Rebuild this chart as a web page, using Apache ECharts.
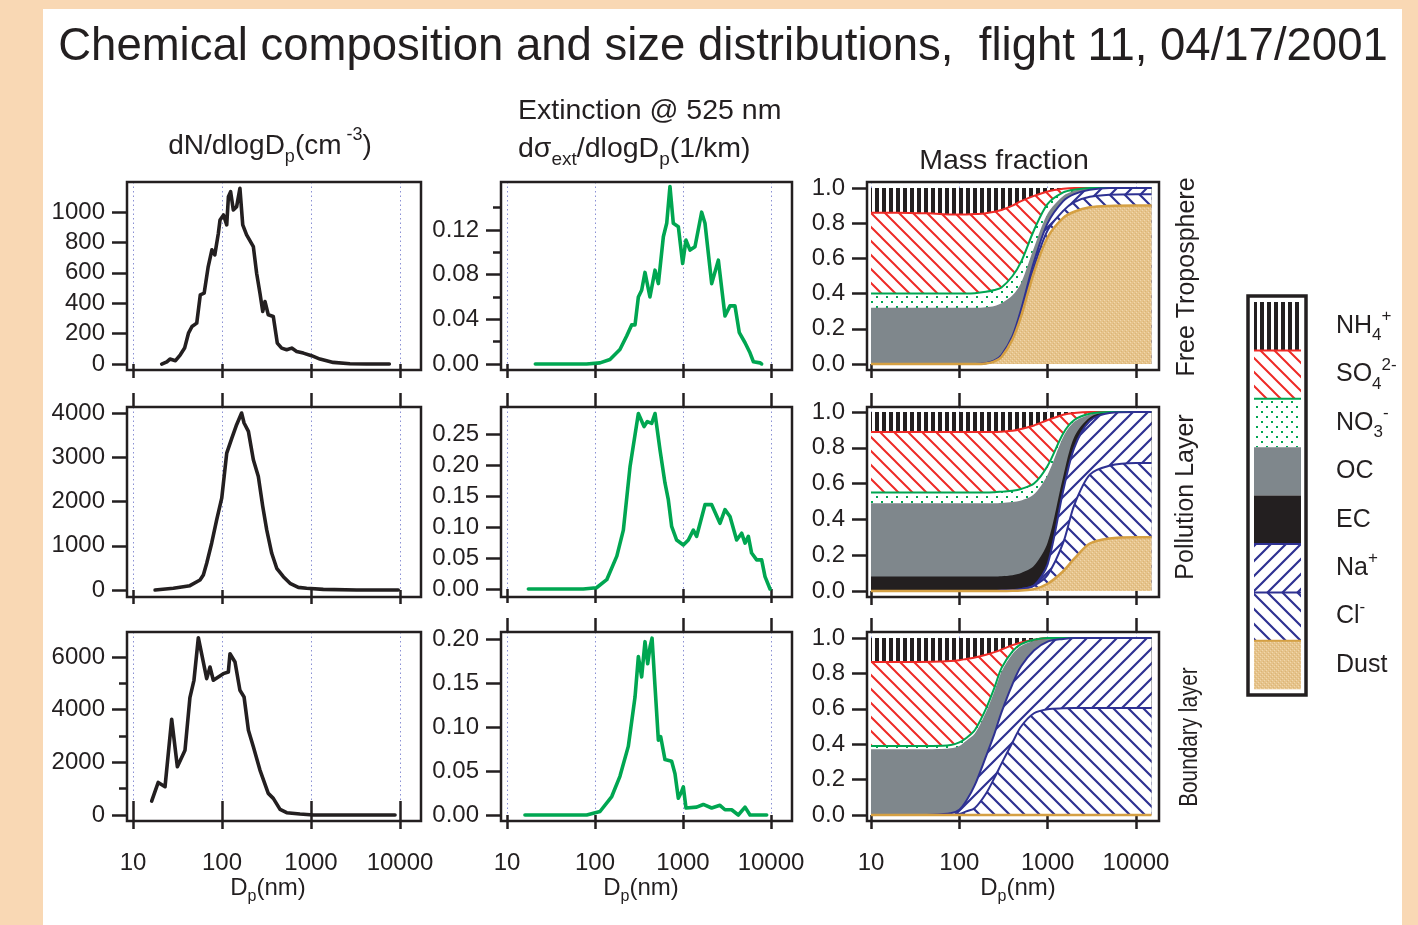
<!DOCTYPE html>
<html>
<head>
<meta charset="utf-8">
<script src="https://cdn.jsdelivr.net/npm/echarts@6/dist/echarts.min.js"></script>
<style>
  html, body { margin: 0; padding: 0; background: #F9D8B4; }
  #panel { position: absolute; left: 43px; top: 9px; width: 1359px; height: 920px; background: #fff; }
  #chart { position: absolute; left: 0; top: 0; width: 1418px; height: 925px; }
</style>
</head>
<body>
<div id="panel"></div>
<div id="chart"></div>
<script>
const DECADES = [10, 100, 1000, 10000]

// number size distributions, dN/dlogDp
const ftNumD = [21, 24, 26, 30, 34, 38, 42, 46, 52, 57, 63, 70, 77, 83, 91, 95, 104, 113, 118, 125, 134, 146, 159, 171, 189, 225, 245, 267, 287, 304, 331, 377, 418, 468, 533, 607, 690, 820, 1015, 1260, 1780, 2740, 4220, 7590]
const ftNumV = [0, 15, 33, 22, 61, 105, 203, 247, 269, 455, 466, 641, 751, 718, 860, 947, 980, 915, 1100, 1133, 1013, 1035, 1155, 915, 849, 772, 597, 466, 346, 411, 324, 313, 138, 105, 94, 105, 83, 72, 55, 33, 11, 2, 0, 0]
const plNumD = [17.7, 28.4, 43.6, 56.6, 61.7, 67.3, 76.5, 87.1, 99.3, 113, 129, 146, 166, 177, 198, 225, 256, 287, 318, 362, 412, 489, 581, 720, 893, 1374, 3260, 9570]
const plNumV = [0, 38, 98, 226, 340, 604, 1057, 1585, 2075, 3094, 3434, 3736, 4000, 3774, 3585, 2943, 2566, 1887, 1358, 830, 491, 302, 151, 60, 38, 15, 0, 0]
const blNumD = [16.2, 19.2, 22.9, 27.2, 31.5, 38.4, 43.6, 48.4, 54.2, 67.3, 73.3, 79.9, 103.5, 117.8, 123, 140, 159, 177, 198, 225, 267, 331, 377, 449, 533, 752, 1062, 8800]
const blNumV = [530, 1238, 1074, 3638, 1832, 2463, 4459, 5116, 6733, 5179, 5621, 5116, 5368, 5432, 6126, 5811, 4737, 4484, 3221, 2589, 1705, 821, 632, 215, 88, 38, 0, 0]

// extinction distributions, dsigma/dlogDp (1/km)
const ftExtD = [21, 80, 114, 148, 192, 229, 261, 285, 311, 339, 370, 421, 481, 525, 598, 653, 711, 776, 885, 991, 1081, 1202, 1368, 1630, 1778, 2118, 2522, 3001, 3420, 3898, 4365, 5070, 5770, 6310, 7500, 7830]
const ftExtV = [0, 0, 0.001, 0.004, 0.013, 0.025, 0.035, 0.035, 0.060, 0.066, 0.082, 0.060, 0.084, 0.072, 0.114, 0.126, 0.159, 0.126, 0.123, 0.090, 0.111, 0.102, 0.105, 0.136, 0.126, 0.072, 0.093, 0.043, 0.052, 0.052, 0.028, 0.019, 0.010, 0.002, 0.001, 0]
const plExtD = [17.5, 73.6, 104, 136, 177, 210, 250, 311, 361, 393, 441, 481, 548, 624, 681, 743, 847, 1009, 1150, 1310, 1429, 1778, 2118, 2630, 3000, 3420, 4070, 4640, 5070, 5530, 6020, 6870, 7830, 8550, 9750]
const plExtV = [0, 0, 0.002, 0.015, 0.053, 0.095, 0.197, 0.283, 0.262, 0.270, 0.267, 0.283, 0.224, 0.171, 0.144, 0.101, 0.079, 0.071, 0.079, 0.095, 0.085, 0.136, 0.136, 0.106, 0.128, 0.117, 0.079, 0.090, 0.074, 0.085, 0.058, 0.047, 0.047, 0.020, 0]
const blExtD = [16, 80.5, 114, 155, 192, 239, 285, 311, 339, 370, 397, 422, 445, 481, 525, 558, 624, 743, 811, 885, 949, 1009, 1081, 1429, 1700, 2118, 2630, 3000, 3570, 4250, 5070, 5770, 8930]
const blExtV = [0, 0, 0.004, 0.021, 0.044, 0.078, 0.134, 0.180, 0.157, 0.197, 0.172, 0.191, 0.201, 0.146, 0.085, 0.089, 0.063, 0.061, 0.047, 0.019, 0.025, 0.032, 0.008, 0.009, 0.012, 0.008, 0.011, 0.006, 0.006, 0, 0.009, 0, 0]

// mass fraction, cumulative top of each layer (stacked bottom to top: Dust, Cl, Na, EC, OC, NO3, SO4, NH4)
const massD = [10, 20, 50, 80, 100, 120, 150, 200, 250, 300, 400, 500, 700, 1000, 1500, 2000, 3000, 5000, 10000, 15000]

const ftNH4 = [1, 1, 1, 1, 1, 1, 1, 1, 1, 1, 1, 1, 1, 1, 1, 1, 1, 1, 1, 1]
const ftSO4 = [0.86, 0.86, 0.855, 0.85, 0.85, 0.85, 0.852, 0.857, 0.865, 0.875, 0.90, 0.925, 0.955, 0.98, 0.995, 1, 1, 1, 1, 1]
const ftNO3 = [0.40, 0.40, 0.40, 0.40, 0.40, 0.40, 0.402, 0.41, 0.42, 0.435, 0.50, 0.58, 0.76, 0.91, 0.975, 0.99, 1, 1, 1, 1]
const ftOC = [0.32, 0.32, 0.32, 0.32, 0.32, 0.32, 0.32, 0.323, 0.33, 0.345, 0.39, 0.46, 0.66, 0.855, 0.955, 0.985, 1, 1, 1, 1]
const ftEC = [0, 0, 0, 0, 0, 0, 0, 0.005, 0.02, 0.05, 0.16, 0.31, 0.58, 0.80, 0.925, 0.965, 0.99, 1, 1, 1]
const ftNa = [0, 0, 0, 0, 0, 0, 0, 0.005, 0.02, 0.05, 0.16, 0.31, 0.58, 0.80, 0.925, 0.965, 0.99, 1, 1, 1]
const ftCl = [0, 0, 0, 0, 0, 0, 0, 0.004, 0.017, 0.045, 0.15, 0.29, 0.55, 0.76, 0.87, 0.92, 0.95, 0.962, 0.965, 0.965]
const ftDust = [0, 0, 0, 0, 0, 0, 0, 0.003, 0.015, 0.04, 0.14, 0.27, 0.52, 0.72, 0.83, 0.865, 0.89, 0.898, 0.9, 0.9]

const plNH4 = [1, 1, 1, 1, 1, 1, 1, 1, 1, 1, 1, 1, 1, 1, 1, 1, 1, 1, 1, 1]
const plSO4 = [0.888, 0.888, 0.888, 0.888, 0.888, 0.888, 0.888, 0.888, 0.888, 0.89, 0.895, 0.905, 0.925, 0.955, 0.985, 0.995, 1, 1, 1, 1]
const plNO3 = [0.55, 0.55, 0.55, 0.55, 0.55, 0.55, 0.55, 0.55, 0.552, 0.555, 0.56, 0.57, 0.60, 0.70, 0.88, 0.955, 0.99, 1, 1, 1]
const plOC = [0.49, 0.49, 0.49, 0.49, 0.49, 0.49, 0.49, 0.49, 0.49, 0.492, 0.497, 0.505, 0.54, 0.65, 0.86, 0.945, 0.985, 1, 1, 1]
const plEC = [0.08, 0.08, 0.08, 0.08, 0.08, 0.08, 0.08, 0.08, 0.08, 0.082, 0.088, 0.10, 0.14, 0.27, 0.64, 0.86, 0.97, 1, 1, 1]
const plNa = [0, 0, 0, 0, 0, 0, 0, 0, 0, 0.002, 0.005, 0.01, 0.03, 0.15, 0.56, 0.80, 0.95, 0.995, 1, 1]
const plCl = [0, 0, 0, 0, 0, 0, 0, 0, 0, 0.001, 0.004, 0.01, 0.03, 0.09, 0.27, 0.48, 0.65, 0.70, 0.715, 0.715]
const plDust = [0, 0, 0, 0, 0, 0, 0, 0, 0, 0, 0.001, 0.003, 0.01, 0.04, 0.11, 0.18, 0.265, 0.293, 0.3, 0.3]

const blNH4 = [1, 1, 1, 1, 1, 1, 1, 1, 1, 1, 1, 1, 1, 1, 1, 1, 1, 1, 1, 1]
const blSO4 = [0.865, 0.865, 0.866, 0.87, 0.875, 0.882, 0.89, 0.905, 0.92, 0.935, 0.96, 0.975, 0.99, 1, 1, 1, 1, 1, 1, 1]
const blNO3 = [0.39, 0.39, 0.39, 0.395, 0.41, 0.435, 0.48, 0.60, 0.72, 0.83, 0.925, 0.965, 0.99, 1, 1, 1, 1, 1, 1, 1]
const blOC = [0.372, 0.372, 0.372, 0.377, 0.39, 0.42, 0.46, 0.58, 0.70, 0.81, 0.91, 0.955, 0.985, 0.998, 1, 1, 1, 1, 1, 1]
const blEC = [0, 0, 0.002, 0.01, 0.03, 0.08, 0.17, 0.33, 0.46, 0.58, 0.74, 0.84, 0.93, 0.98, 0.995, 1, 1, 1, 1, 1]
const blNa = [0, 0, 0.002, 0.01, 0.03, 0.08, 0.17, 0.33, 0.46, 0.58, 0.74, 0.84, 0.93, 0.98, 0.995, 1, 1, 1, 1, 1]
const blCl = [0, 0, 0, 0, 0.005, 0.02, 0.04, 0.12, 0.21, 0.29, 0.41, 0.50, 0.575, 0.598, 0.603, 0.604, 0.604, 0.604, 0.604, 0.604]
const blDust = [0, 0, 0, 0, 0, 0, 0, 0, 0, 0, 0, 0, 0, 0, 0, 0, 0, 0, 0, 0]

// axis ticks
const numTicksFT = [0, 200, 400, 600, 800, 1000]
const numTicksPL = [0, 1000, 2000, 3000, 4000]
const numTicksBL = [0, 2000, 4000, 6000]
const numMinorBL = [1000, 3000, 5000]
const extTicksFT = [0, 0.04, 0.08, 0.12]
const extMinorFT = [0.02, 0.06, 0.10, 0.14]
const extTicksPL = [0, 0.05, 0.10, 0.15, 0.20, 0.25]
const extTicksBL = [0, 0.05, 0.10, 0.15, 0.20]
const fracTicks = [0, 0.2, 0.4, 0.6, 0.8, 1.0]

const layerNames = ['NH4', 'SO4', 'NO3', 'OC', 'EC', 'Na', 'Cl', 'Dust']

const FONT = '"Liberation Sans", Arial, Helvetica, sans-serif'
const INK = '#231F20'
const RED = '#EE2A26'
const GREEN = '#00A651'
const BLUE = '#2E3192'
const GRAY = '#7F878C'
const TAN = '#D5A043'

const COL_LEFT = [127, 501, 867]
const COL_WIDTH = [294, 291, 292]
const ROW_TOP = [182, 407, 632]
const ROW_HEIGHT = [188, 190, 189]
const X_RANGE = [[8.56, 17220], [8.55, 17320], [9.01, 18220]]

function tile(w, h, draw) {
  const c = document.createElement('canvas')
  c.width = w
  c.height = h
  const g = c.getContext('2d')
  g.fillStyle = '#fff'
  g.fillRect(0, 0, w, h)
  draw(g)
  return { image: c, repeat: 'repeat' }
}

function hatch(color, up, s, w) {
  return tile(s, s, g => {
    g.strokeStyle = color
    g.lineWidth = w
    g.beginPath()
    for (const o of [-s, 0, s]) {
      if (up) { g.moveTo(o - 2, s + 2); g.lineTo(o + s + 2, -2) }
      else { g.moveTo(o - 2, -2); g.lineTo(o + s + 2, s + 2) }
    }
    g.stroke()
  })
}

const FILLS = {
  NH4: tile(7, 8, g => { g.fillStyle = INK; g.fillRect(0, 0, 4, 8) }),
  SO4: hatch(RED, false, 14, 2),
  NO3: tile(10, 10, g => {
    g.fillStyle = GREEN
    g.fillRect(1, 1, 2, 2)
    g.fillRect(6, 6, 2, 2)
  }),
  OC: GRAY,
  EC: INK,
  Na: hatch(BLUE, true, 15, 2.2),
  Cl: hatch(BLUE, false, 15, 2.2),
  Dust: tile(4, 4, g => {
    g.fillStyle = '#E6C38B'
    g.fillRect(0, 0, 4, 4)
    g.fillStyle = '#F0D8AE'
    g.fillRect(0, 0, 1, 1)
    g.fillRect(2, 2, 1, 1)
    g.fillStyle = '#D9B577'
    g.fillRect(1, 3, 1, 1)
    g.fillRect(3, 1, 1, 1)
  })
}
const LINES = { SO4: RED, NO3: GREEN, Na: BLUE, Cl: BLUE, Dust: TAN }

const zip = (xs, ys) => xs.map((x, i) => [x, ys[i]])

const panels = [
  { row: 0, col: 0, y: [-39, 1197], major: numTicksFT, dec: 0, curve: zip(ftNumD, ftNumV), color: INK },
  { row: 0, col: 1, y: [-0.0054, 0.163], major: extTicksFT, minor: extMinorFT, dec: 2, curve: zip(ftExtD, ftExtV), color: GREEN },
  { row: 0, col: 2, y: [-0.034, 1.034], major: fracTicks, dec: 1, mass: [ftNH4, ftSO4, ftNO3, ftOC, ftEC, ftNa, ftCl, ftDust] },
  { row: 1, col: 0, y: [-158, 4136], major: numTicksPL, dec: 0, curve: zip(plNumD, plNumV), color: INK },
  { row: 1, col: 1, y: [-0.0129, 0.2935], major: extTicksPL, dec: 2, curve: zip(plExtD, plExtV), color: GREEN },
  { row: 1, col: 2, y: [-0.034, 1.028], major: fracTicks, dec: 1, mass: [plNH4, plSO4, plNO3, plOC, plEC, plNa, plCl, plDust] },
  { row: 2, col: 0, y: [-228, 6950], major: numTicksBL, minor: numMinorBL, dec: 0, curve: zip(blNumD, blNumV), color: INK },
  { row: 2, col: 1, y: [-0.0068, 0.208], major: extTicksBL, dec: 2, curve: zip(blExtD, blExtV), color: GREEN },
  { row: 2, col: 2, y: [-0.034, 1.034], major: fracTicks, dec: 1, mass: [blNH4, blSO4, blNO3, blOC, blEC, blNa, blCl, blDust] }
]

function logAxis(gi, col, position, labels) {
  return {
    type: 'log', logBase: 10, gridIndex: gi, position,
    min: X_RANGE[col][0], max: X_RANGE[col][1],
    axisLine: { show: false },
    axisTick: { show: true, customValues: DECADES, length: 14, lineStyle: { color: INK, width: 2.5 } },
    axisLabel: {
      show: labels, customValues: DECADES, margin: 30, color: INK, fontSize: 24, fontFamily: FONT,
      formatter: v => String(Math.round(v))
    },
    splitLine: { show: position === 'bottom', lineStyle: { color: '#8A90D4', width: 1, type: [1.5, 3] } }
  }
}

function valueAxis(gi, p, values, len, labels) {
  return {
    type: 'value', gridIndex: gi, position: 'left', min: p.y[0], max: p.y[1],
    axisLine: { show: false },
    axisTick: { show: true, customValues: values, length: len, lineStyle: { color: INK, width: 2.5 } },
    axisLabel: {
      show: labels, customValues: values, margin: 22, color: INK, fontSize: 24, fontFamily: FONT,
      formatter: v => Number(v).toFixed(p.dec)
    },
    splitLine: { show: false }
  }
}

const option = {
  animation: false,
  backgroundColor: 'transparent',
  grid: [], xAxis: [], yAxis: [], series: [], graphic: []
}

panels.forEach(p => {
  const gi = option.grid.length
  option.grid.push({
    left: COL_LEFT[p.col], top: ROW_TOP[p.row], width: COL_WIDTH[p.col], height: ROW_HEIGHT[p.row],
    show: true, z: 5, borderColor: INK, borderWidth: 2.5, backgroundColor: 'transparent',
    containLabel: false, outerBoundsMode: 'none'
  })
  const xi = option.xAxis.length
  option.xAxis.push(logAxis(gi, p.col, 'bottom', p.row === 2))
  if (p.row > 0) option.xAxis.push(logAxis(gi, p.col, 'top', false))
  const yi = option.yAxis.length
  option.yAxis.push(valueAxis(gi, p, p.major, 15, true))
  if (p.minor) option.yAxis.push(valueAxis(gi, p, p.minor, 8, false))

  if (p.curve) {
    option.series.push({
      type: 'line', xAxisIndex: xi, yAxisIndex: yi, data: p.curve,
      symbol: 'none', silent: true, z: 3,
      lineStyle: { color: p.color, width: 3.6, join: 'round', cap: 'round' }
    })
    return
  }
  // painter's order: top layer first, each area filled down to zero
  p.mass.forEach((vals, k) => {
    const name = layerNames[k]
    const line = LINES[name]
    option.series.push({
      type: 'line', xAxisIndex: xi, yAxisIndex: yi, data: zip(massD, vals),
      smooth: 0.3, symbol: 'none', silent: true, z: 2,
      lineStyle: line ? { color: line, width: name === 'Dust' ? 2.5 : 2 } : { opacity: 0, width: 0 },
      areaStyle: { color: FILLS[name], opacity: 1 }
    })
  })
})

function richText(x, y, text, size, extra) {
  const lh = Math.round(size * 1.42)
  const small = Math.round(size * 0.66)
  return Object.assign({
    type: 'text', x, y, silent: true,
    style: {
      text, align: 'center', verticalAlign: 'middle', fill: INK,
      fontSize: size, fontFamily: FONT,
      rich: {
        b: { fontSize: size, lineHeight: lh, fontFamily: FONT, fill: INK },
        s: { fontSize: small, lineHeight: small, verticalAlign: 'bottom', fontFamily: FONT, fill: INK },
        u: { fontSize: small, lineHeight: small, verticalAlign: 'top', fontFamily: FONT, fill: INK }
      }
    }
  }, extra || {})
}

const g = option.graphic
g.push(richText(723, 47, '{b|Chemical composition and size distributions,  flight 11, 04/17/2001}', 45.5))
g.push(richText(270, 146, '{b|dN/dlogD}{s|p}{b|(cm}{u| -3}{b|)}', 28))
const ext1 = richText(518, 111, '{b|Extinction @ 525 nm}', 28.5)
ext1.style.align = 'left'
g.push(ext1)
const ext2 = richText(518, 149, '{b|dσ}{s|ext}{b|/dlogD}{s|p}{b|(1/km)}', 28.5)
ext2.style.align = 'left'
g.push(ext2)
g.push(richText(1004, 161, '{b|Mass fraction}', 28.5))
;[268, 641, 1018].forEach(x => g.push(richText(x, 888, '{b|D}{s|p}{b|(nm)}', 24)))

g.push(richText(1187, 277, '{b|Free Troposphere}', 25, { rotation: Math.PI / 2 }))
g.push(richText(1186, 497, '{b|Pollution Layer}', 25, { rotation: Math.PI / 2 }))
g.push(richText(1190, 737, '{b|Boundary layer}', 25, { rotation: Math.PI / 2, scaleX: 0.83 }))

// legend
const LEG_X = 1254, LEG_Y = 302, LEG_W = 47, LEG_H = 48.4
const legendTop = ['NH4', 'SO4', 'NO3', 'OC', 'EC', 'Na', 'Cl', 'Dust']
const legendText = {
  NH4: '{b|NH}{s|4}{u|+}', SO4: '{b|SO}{s|4}{u|2-}', NO3: '{b|NO}{s|3}{u|-}', OC: '{b|OC}',
  EC: '{b|EC}', Na: '{b|Na}{u|+}', Cl: '{b|Cl}{u|-}', Dust: '{b|Dust}'
}
g.push({
  type: 'rect', silent: true,
  shape: { x: 1248, y: 296, width: 58, height: 399 },
  style: { fill: '#fff', stroke: INK, lineWidth: 3.5 }
})
legendTop.forEach((name, i) => {
  const y = LEG_Y + i * LEG_H
  g.push({ type: 'rect', silent: true, shape: { x: LEG_X, y, width: LEG_W, height: LEG_H }, style: { fill: FILLS[name] } })
  if (LINES[name]) {
    g.push({ type: 'line', silent: true, shape: { x1: LEG_X, y1: y, x2: LEG_X + LEG_W, y2: y }, style: { stroke: LINES[name], lineWidth: 2 } })
  }
  const t = richText(1336, y + LEG_H / 2, legendText[name], 25)
  t.style.align = 'left'
  g.push(t)
})

const chart = echarts.init(document.getElementById('chart'), null, { renderer: 'canvas' })
chart.setOption(option)
</script>
</body>
</html>
